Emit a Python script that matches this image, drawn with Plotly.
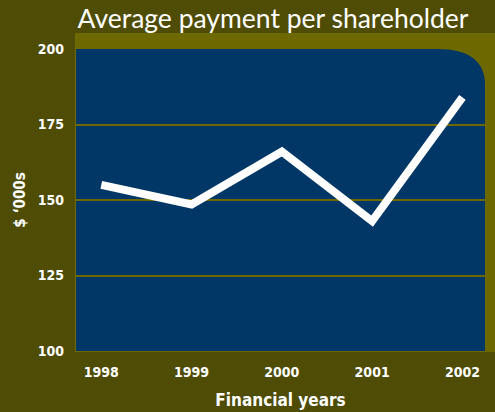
import plotly.graph_objects as go

years = [1998, 1999, 2000, 2001, 2002]
payments = [155, 148.5, 166, 143, 184]
y_ticks = [100, 125, 150, 175, 200]
x_tick_labels = ["1998", "1999", "2000", "2001", "2002"]

BG = "#4f4c06"
BAND = "#6d6900"
BLUE = "#003767"
W, H = 495, 412
L, R, T, B = 76, 10, 49, 61
pw, ph = W - L - R, H - T - B

fig = go.Figure()
fig.add_trace(go.Scatter(
    x=years, y=payments, mode="lines",
    line=dict(color="white", width=8), hoverinfo="skip"))

# olive band behind the panel
fig.add_shape(type="rect", xref="paper", yref="paper", layer="below",
              x0=-1 / pw, x1=(W - L) / pw, y0=-1 / ph, y1=1 + 16 / ph,
              fillcolor=BAND, line_width=0)
rx, ry = 48 / pw, 36 / ph
path = (f"M 0 0 L 0 1 L {1 - rx} 1 Q 1 1 1 {1 - ry} L 1 0 Z")
fig.add_shape(type="path", xref="paper", yref="paper", layer="below",
              path=path, fillcolor=BLUE, line_width=0)

FAM = "DejaVu Sans Condensed, Liberation Sans Narrow, sans-serif"
tickfont = dict(family=FAM, size=14, color="white", weight=700)
fig.update_xaxes(range=[1997.72, 2002.25], tickvals=years, ticktext=x_tick_labels,
                 showgrid=False, zeroline=False, showline=False, automargin=False,
                 tickfont=tickfont, ticks="", ticklabelstandoff=11,
                 title=dict(text="Financial years", standoff=15,
                            font=dict(family=FAM, size=17, color="white", weight=700)))
fig.update_yaxes(range=[100, 200], tickvals=y_ticks, showgrid=True,
                 gridcolor=BAND, gridwidth=2, zeroline=False, showline=False,
                 automargin=False,
                 tickfont=tickfont, ticks="", ticklabelstandoff=11,
                 title=dict(text="$ ‘000s", standoff=8,
                            font=dict(family=FAM, size=15, color="white", weight=700)))
fig.update_layout(
    width=W, height=H, showlegend=False,
    paper_bgcolor=BG, plot_bgcolor="rgba(0,0,0,0)",
    margin=dict(l=L, r=R, t=T, b=B),
    title=dict(text="Average payment per shareholder", x=273 / W, xanchor="center",
               y=1 - 19 / H, yanchor="middle",
               font=dict(family="Lato, Open Sans, sans-serif", size=26.5, color="white")),
)
fig.write_html("out.html", config={"displayModeBar": False},
               post_script="document.body.style.margin='0';document.body.style.overflow='hidden';")
